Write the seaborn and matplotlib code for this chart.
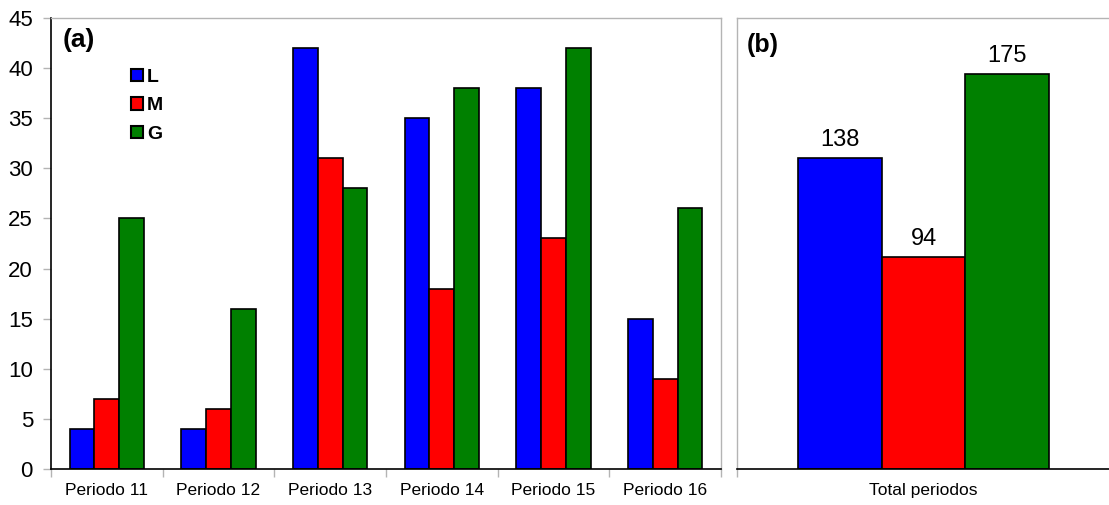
import matplotlib
matplotlib.use("Agg")
import matplotlib.pyplot as plt
import matplotlib.patches as mpatches
import seaborn as sns
import pandas as pd

# Counts per period and class
periodos = ["Periodo 11", "Periodo 12", "Periodo 13", "Periodo 14", "Periodo 15", "Periodo 16"]
clases = ["L", "M", "G"]
valores_L = [4, 4, 42, 35, 38, 15]
valores_M = [7, 6, 31, 18, 23, 9]
valores_G = [25, 16, 28, 38, 42, 26]

# Totals over all periods
total_categoria = ["Total periodos"]
totales = [138, 94, 175]

colores = {"L": "#0000FF", "M": "#FF0000", "G": "#008000"}

sns.set_style("white")
plt.rcParams["font.family"] = ["Liberation Sans", "DejaVu Sans"]
plt.rcParams["text.color"] = "black"
plt.rcParams["xtick.labelcolor"] = "black"
plt.rcParams["ytick.labelcolor"] = "black"

df_a = pd.DataFrame({
    "periodo": periodos * 3,
    "clase": ["L"] * 6 + ["M"] * 6 + ["G"] * 6,
    "valor": valores_L + valores_M + valores_G,
})
df_b = pd.DataFrame({
    "periodo": total_categoria * 3,
    "clase": clases,
    "valor": totales,
})

fig = plt.figure(figsize=(11.09, 5.05), dpi=100)
ax_a = fig.add_axes([51 / 1109, 36 / 505, 670 / 1109, 451 / 505])
ax_b = fig.add_axes([737 / 1109, 36 / 505, 373 / 1109, 451 / 505])

gris = "#b4b4b4"

# ---- panel (a)
sns.barplot(data=df_a, x="periodo", y="valor", hue="clase", hue_order=clases,
            order=periodos, palette=colores, saturation=1, edgecolor="black",
            linewidth=1.2, width=0.665, gap=0, ax=ax_a, legend=False)
ax_a.set_xlim(-0.5, len(periodos) - 0.5)
ax_a.set_ylim(0, 45)
ax_a.set_yticks(range(0, 46, 5))
ax_a.set_xticks([i + 0.5 for i in range(-1, len(periodos))], minor=True)
ax_a.set_xticks(range(len(periodos)))
ax_a.set_xticklabels(periodos)
ax_a.tick_params(axis="x", which="major", length=0, pad=10, labelsize=12.5, labelcolor="black")
ax_a.tick_params(axis="x", which="minor", length=6, color=gris, width=1, bottom=True)
ax_a.tick_params(axis="y", length=6, color=gris, width=1, left=True, pad=7,
                 labelsize=16, labelcolor="black")
ax_a.set_xlabel("")
ax_a.set_ylabel("")
for side in ["left", "bottom"]:
    ax_a.spines[side].set_color("black")
    ax_a.spines[side].set_linewidth(1.2)
for side in ["top", "right"]:
    ax_a.spines[side].set_color(gris)
    ax_a.spines[side].set_linewidth(1.0)

handles = [mpatches.Patch(facecolor=colores[c], edgecolor="black", linewidth=1.5, label=c)
           for c in clases]
ax_a.legend(handles=handles, loc="upper left", bbox_to_anchor=(0.12, 0.888),
            frameon=False, prop={"weight": "bold", "size": 14},
            handlelength=0.6, handleheight=0.6, handletextpad=0.2,
            labelspacing=0.6, borderpad=0, borderaxespad=0)
ax_a.text(0.018, 0.978, "(a)", transform=ax_a.transAxes, ha="left", va="top",
          fontsize=19, fontweight="bold")

# ---- panel (b)
sns.barplot(data=df_b, x="periodo", y="valor", hue="clase", hue_order=clases,
            palette=colores, saturation=1, edgecolor="black", linewidth=1.2,
            width=0.675, gap=0, ax=ax_b, legend=False)
ax_b.set_xlim(-0.5, 0.5)
ax_b.set_ylim(0, 200)
ax_b.set_yticks([])
ax_b.set_xticks([-0.5], minor=True)
ax_b.tick_params(axis="x", which="major", length=0, pad=10, labelsize=12.5, labelcolor="black")
ax_b.tick_params(axis="x", which="minor", length=6, color=gris, width=1, bottom=True)
ax_b.set_xlabel("")
ax_b.set_ylabel("")
ax_b.spines["bottom"].set_color("black")
ax_b.spines["bottom"].set_linewidth(1.2)
for side in ["top", "left"]:
    ax_b.spines[side].set_color(gris)
    ax_b.spines[side].set_linewidth(1.0)
ax_b.spines["right"].set_visible(False)
for cont in ax_b.containers:
    ax_b.bar_label(cont, fmt="%d", padding=5, fontsize=17, color="black")
ax_b.text(0.027, 0.967, "(b)", transform=ax_b.transAxes, ha="left", va="top",
          fontsize=18, fontweight="bold")

fig.savefig("out.png", dpi=100)
